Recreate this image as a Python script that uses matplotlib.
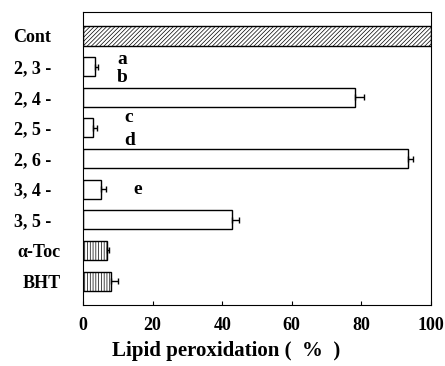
import matplotlib.pyplot as plt
import matplotlib.transforms as mtransforms
import numpy as np

plt.rcParams['font.family'] = 'Liberation Serif'
plt.rcParams['font.weight'] = 'bold'
plt.rcParams['hatch.linewidth'] = 0.5

labels = ['Cont', '2, 3 -', '2, 4 -', '2, 5 -', '2, 6 -', '3, 4 -', '3, 5 -', 'α-Toc', 'BHT']
values = [100, 3.4, 78.2, 2.9, 93.4, 5.2, 42.8, 6.9, 8.0]
errors = [0, 0.8, 2.5, 1.0, 1.5, 1.5, 2.0, 0.5, 2.0]
hatches = ['////////', '', '', '', '', '', '', '||||||', '||||||']
letters = ['a', 'b', 'c', 'd', 'e']
letter_x = [9.8, 9.8, 11.8, 11.8, 14.4]
letter_y = [0.78, 1.37, 2.65, 3.4, 5.0]

fig = plt.figure(figsize=(4.45, 3.66), dpi=100)
ax = fig.add_axes([0.1865, 0.1667, 0.782, 0.8003])

y = np.arange(len(labels))
for i in range(len(labels)):
    h = 0.65 if i == 0 else 0.62
    ax.barh(y[i], values[i], height=h, color='white', edgecolor='black',
            linewidth=1.0, hatch=hatches[i])
    if errors[i] > 0:
        ax.errorbar(values[i], y[i], xerr=[[0], [errors[i]]], fmt='none',
                    ecolor='black', elinewidth=1.0, capsize=2.5, capthick=1.0)

for t, lx, ly in zip(letters, letter_x, letter_y):
    ax.text(lx, ly, t, fontsize=14, fontweight='bold', ha='left', va='center')

ax.set_xlim(0, 100)
ax.set_ylim(8.78, -0.78)
ax.set_yticks(y)
ax.set_yticklabels(labels, fontsize=13, fontweight='bold')
ax.tick_params(axis='y', length=0, pad=50)
shifts = {'α-Toc': 4, 'BHT': 9}
for lab in ax.get_yticklabels():
    lab.set_horizontalalignment('left')
    dx = shifts.get(lab.get_text(), 0)
    if dx:
        lab.set_transform(lab.get_transform() + mtransforms.ScaledTranslation(dx / 100, 0, fig.dpi_scale_trans))
ax.set_xticks([0, 20, 40, 60, 80, 100])
ax.tick_params(axis='x', direction='in', length=3, labelsize=13, pad=9)
for lab in ax.get_xticklabels():
    lab.set_fontweight('bold')
ax.set_xlabel('Lipid peroxidation (  %  )', fontsize=15, fontweight='bold', x=0.41, labelpad=5)

fig.savefig('out.png', dpi=100)
